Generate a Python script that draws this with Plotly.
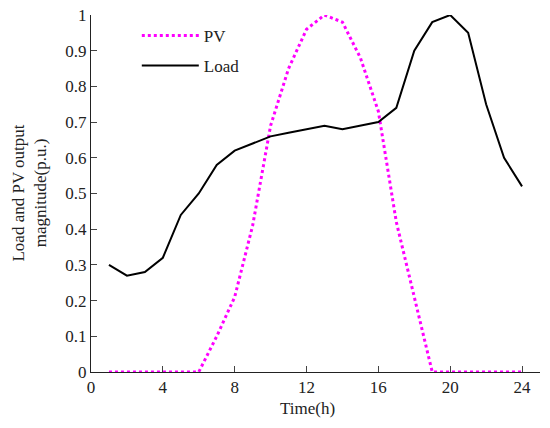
import plotly.graph_objects as go

hours = list(range(1, 25))
load = [0.30, 0.27, 0.28, 0.32, 0.44, 0.50, 0.58, 0.62, 0.64, 0.66, 0.67, 0.68,
        0.69, 0.68, 0.69, 0.70, 0.74, 0.90, 0.98, 1.00, 0.95, 0.75, 0.60, 0.52]
pv = [0, 0, 0, 0, 0, 0, 0.10, 0.21, 0.41, 0.69, 0.85, 0.96,
      1.00, 0.98, 0.88, 0.73, 0.42, 0.21, 0, 0, 0, 0, 0, 0]
x_ticks = [0, 4, 8, 12, 16, 20, 24]
y_ticks = [0, 0.1, 0.2, 0.3, 0.4, 0.5, 0.6, 0.7, 0.8, 0.9, 1]
y_tick_text = ['0', '0.1', '0.2', '0.3', '0.4', '0.5', '0.6', '0.7', '0.8', '0.9', '1']

font = 'Liberation Serif'

fig = go.Figure()
fig.add_trace(go.Scatter(x=hours, y=pv, mode='lines', name='PV', cliponaxis=False,
                         legendgroup='pv',
                         line=dict(color='#ff00ff', width=3, dash='dot')))
fig.add_trace(go.Scatter(x=hours, y=load, mode='lines', name='Load', cliponaxis=False,
                         legendgroup='load',
                         line=dict(color='black', width=2)))

fig.update_layout(
    width=550, height=428,
    margin=dict(l=91, r=10, t=15, b=56),
    plot_bgcolor='white', paper_bgcolor='white',
    font=dict(family=font, size=17, color='#222'),
    showlegend=True,
    legend=dict(x=0.102, y=0.992, xanchor='left', yanchor='top',
                bgcolor='rgba(0,0,0,0)', font=dict(family=font, size=17),
                itemwidth=57, tracegroupgap=5),
    annotations=[
        dict(text='Time(h)', xref='paper', yref='paper', x=0.483, y=-0.101,
             xanchor='center', yanchor='middle', showarrow=False,
             font=dict(family=font, size=17)),
        dict(text='Load and PV output<br>magnitude(p.u.)', xref='paper', yref='paper',
             x=-0.138, y=0.5, xanchor='center', yanchor='middle', textangle=-90,
             showarrow=False, font=dict(family=font, size=17)),
    ],
)
fig.update_xaxes(range=[0, 25], tickvals=x_ticks, ticks='inside', ticklen=6,
                 showline=True, linecolor='#222', linewidth=1, showgrid=False,
                 zeroline=False, automargin=False, tickfont=dict(size=17))
fig.update_yaxes(range=[0, 1], tickvals=y_ticks, ticktext=y_tick_text,
                 ticks='inside', ticklen=6, showline=True, linecolor='#222',
                 linewidth=1, showgrid=False, zeroline=False, automargin=False,
                 tickfont=dict(size=17))

# drop the browser's default 8px body margin so the figure sits at the corner
fig.write_html("out.html", config={'displayModeBar': False},
               post_script="document.body.style.margin = '0px';")
